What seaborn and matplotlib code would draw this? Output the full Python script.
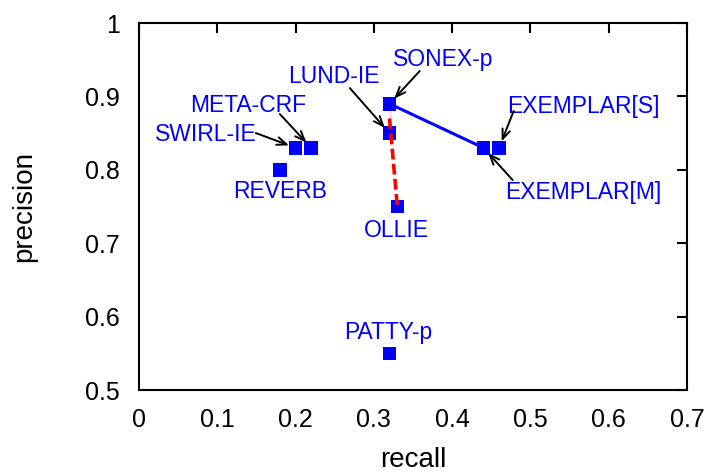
import matplotlib
matplotlib.use("Agg")
import matplotlib.pyplot as plt
import seaborn as sns
import pandas as pd

systems = ["SWIRL-IE", "META-CRF", "REVERB", "LUND-IE", "SONEX-p", "OLLIE",
           "EXEMPLAR[S]", "EXEMPLAR[M]", "PATTY-p"]
recall = [0.20, 0.22, 0.18, 0.32, 0.32, 0.33, 0.46, 0.44, 0.32]
precision = [0.83, 0.83, 0.80, 0.85, 0.89, 0.75, 0.83, 0.83, 0.55]

# label text positions (data coords: x centre, y baseline)
label_x = [0.0855, 0.1397, 0.1799, 0.2488, 0.3892, 0.3292, 0.5679, 0.5679, 0.3190]
label_y = [0.8392, 0.8787, 0.7616, 0.9183, 0.9414, 0.7084, 0.8774, 0.7602, 0.5695]
# arrow tail positions (None = no arrow)
arrow_tail = [(0.1493, 0.8501), (0.1799, 0.8760), None, (0.2693, 0.9114),
              (0.3586, 0.9346), None, (0.4786, 0.8801), (0.4773, 0.7861), None]

blue_line = ["SONEX-p", "EXEMPLAR[M]"]
red_line = ["SONEX-p", "LUND-IE", "OLLIE"]

x_ticks = [0, 0.1, 0.2, 0.3, 0.4, 0.5, 0.6, 0.7]
x_ticklabels = ["0", "0.1", "0.2", "0.3", "0.4", "0.5", "0.6", "0.7"]
y_ticks = [0.5, 0.6, 0.7, 0.8, 0.9, 1.0]
y_ticklabels = ["0.5", "0.6", "0.7", "0.8", "0.9", "1"]

sns.set_style("white")
plt.rcParams["font.family"] = ["Liberation Sans", "DejaVu Sans"]

df = pd.DataFrame({"system": systems, "recall": recall, "precision": precision})

fig = plt.figure(figsize=(7.11, 4.72), dpi=100)
ax = fig.add_axes([0.1955, 0.1737, 0.7707, 0.7775])

bl = df.set_index("system").loc[blue_line].reset_index()
rl = df.set_index("system").loc[red_line].reset_index()
sns.lineplot(data=bl, x="recall", y="precision", sort=False, color="#0000ff",
             lw=2.2, ax=ax, zorder=2)
sns.scatterplot(data=df, x="recall", y="precision", marker="s", s=95,
                color="#0000ff", edgecolor="none", linewidth=0, ax=ax, zorder=3)
sns.lineplot(data=rl, x="recall", y="precision", sort=False, color="#ff0000",
             lw=2.6, ax=ax, zorder=4)
ax.lines[-1].set_dashes([3, 1.2])

for name, px, py, lx, ly, tail in zip(systems, recall, precision, label_x, label_y, arrow_tail):
    ax.text(lx, ly, name, ha="center", va="baseline", color="#0000ff", fontsize=16.5)
    if tail is not None:
        ax.annotate("", xy=(px, py), xytext=tail,
                    arrowprops=dict(arrowstyle="->,head_length=0.7,head_width=0.28",
                                    color="black", lw=1.4, shrinkA=0, shrinkB=5))

ax.set_xlim(0, 0.7)
ax.set_ylim(0.5, 1.0)
ax.set_xticks(x_ticks)
ax.set_xticklabels(x_ticklabels, fontsize=18, color="black")
ax.set_yticks(y_ticks)
ax.set_yticklabels(y_ticklabels, fontsize=18, color="black")
ax.tick_params(direction="in", length=7, width=1.5,
               top=True, right=True, colors="black")
ax.tick_params(axis="x", pad=13)
ax.tick_params(axis="y", pad=14)
for s in ax.spines.values():
    s.set_visible(True)
    s.set_linewidth(1.5)
    s.set_color("black")
ax.set_xlabel("recall", fontsize=20, labelpad=11, color="black")
ax.set_ylabel("precision", fontsize=20, labelpad=34, color="black")

fig.savefig("out.png", dpi=100)
